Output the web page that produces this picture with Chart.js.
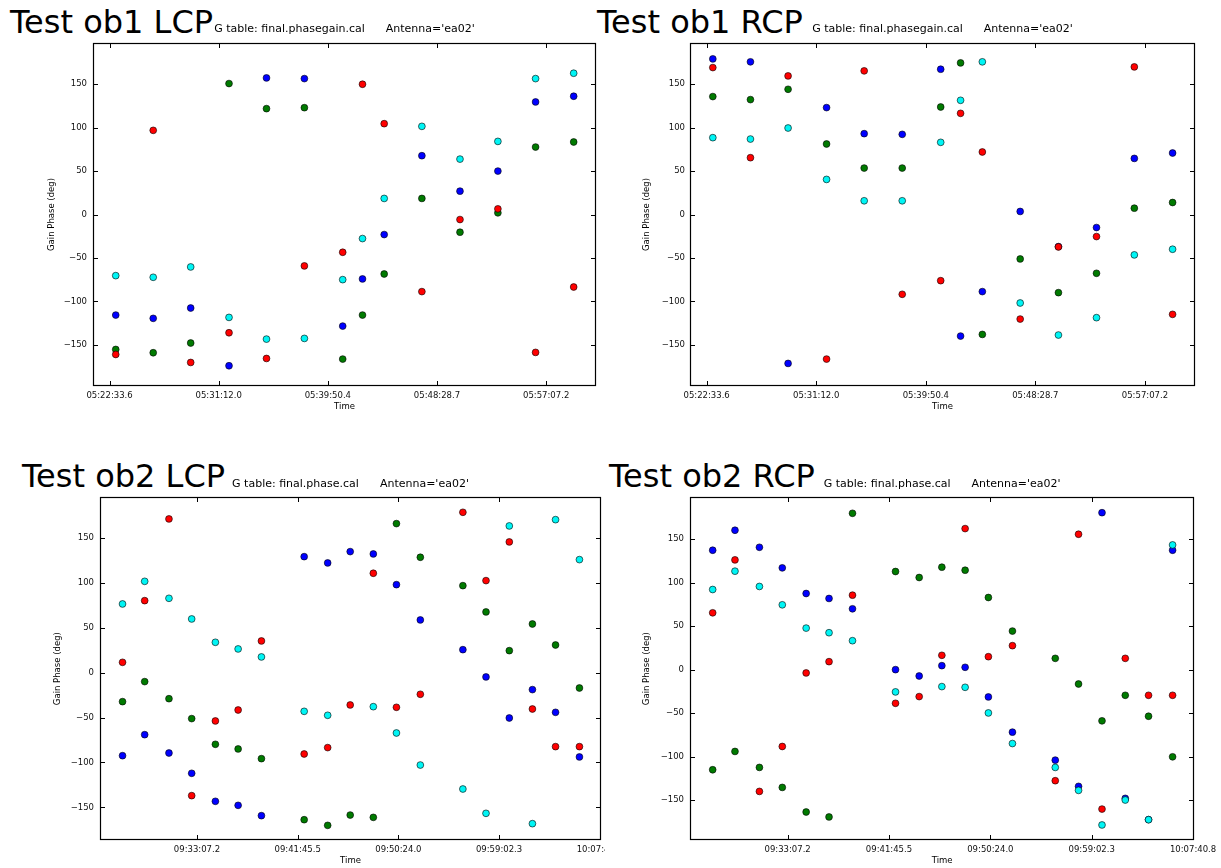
<!DOCTYPE html>
<html><head><meta charset="utf-8">
<script src="https://cdn.jsdelivr.net/npm/chart.js@4"></script>
<style>
body{margin:0;background:#fff;width:1221px;height:868px;overflow:hidden;position:relative;font-family:'DejaVu Sans',sans-serif;}
.big{position:absolute;font-size:32px;line-height:32px;white-space:nowrap;color:#000;}
canvas{position:absolute;}
</style></head><body>
<div class="big" style="left:10px;top:6px">Test ob1 LCP</div>
<div class="big" style="left:597px;top:6px">Test ob1 RCP</div>
<div class="big" style="left:22px;top:460px">Test ob2 LCP</div>
<div class="big" style="left:609px;top:460px">Test ob2 RCP</div>
<canvas id="c1" width="600" height="422" style="left:0;top:0"></canvas>
<canvas id="c2" width="621" height="422" style="left:600px;top:0"></canvas>
<canvas id="c3" width="605" height="418" style="left:0;top:450px"></canvas>
<canvas id="c4" width="616" height="418" style="left:605px;top:450px"></canvas>
<script>
// ---- data ----
const timesOb1 = ['05:23:03','05:26:01','05:28:59','05:32:01','05:34:59','05:37:59','05:41:01','05:42:35','05:44:18','05:47:17','05:50:18','05:53:18','05:56:17','05:59:18'];
const timesOb2 = ['09:26:44','09:28:38','09:30:43','09:32:40','09:34:42','09:36:39','09:38:39','09:42:19','09:44:20','09:46:16','09:48:15','09:50:14','09:52:17','09:55:56','09:57:55','09:59:55','10:01:54','10:03:53','10:05:56'];
const xTicksOb1 = ['05:22:33.6','05:31:12.0','05:39:50.4','05:48:28.7','05:57:07.2'];
const xTicksOb2 = ['09:33:07.2','09:41:45.5','09:50:24.0','09:59:02.3','10:07:40.8'];
const yTicks = [-150,-100,-50,0,50,100,150];
const seriesColors = ['#0000ff','#007a00','#ff0000','#00f5f5'];

const ob1LcpBlue  = [-115.8,-119.6,-107.7,-174.2,157.3,156.5,-128.5,-74.2,-23.1,67.7,26.9,50,129.6,136.2];
const ob1LcpGreen = [-155.4,-159.2,-148,150.8,121.9,123,-166.5,-115.8,-68.5,18.5,-20.4,1.9,77.7,83.5];
const ob1LcpRed   = [-161.2,96.9,-170.4,-136.2,-165.8,-59.2,-43.5,150,104.6,-88.8,-5.8,6.5,-158.8,-83.5];
const ob1LcpCyan  = [-70.4,-72.3,-60.4,-118.5,-143.5,-142.7,-75,-27.7,18.5,101.5,63.8,84.2,156.5,162.7];

const ob1RcpBlue  = [179.2,175.8,-171.5,123.1,93.1,92.3,167.3,-140,-88.8,3.5,-37,-15,64.6,70.8];
const ob1RcpGreen = [135.8,132.3,144.2,81.2,53.5,53.5,123.8,174.6,-138.1,-51.2,-90,-67.7,7.3,13.8];
const ob1RcpRed   = [169.2,65.4,159.6,-166.5,165.4,-91.9,-76.2,116.5,72,-120.4,-37.3,-25.4,170,-115];
const ob1RcpCyan  = [88.5,86.9,99.6,40.4,15.8,15.8,83.1,131.5,175.8,-101.9,-138.8,-118.8,-46.5,-40];

const ob2LcpBlue  = [-92.5,-69.1,-89.5,-112.1,-143.3,-147.8,-159.3,129.2,122.2,134.8,132.2,98,58.7,25.6,-4.8,-50.5,-18.9,-44.2,-93.9];
const ob2LcpGreen = [-32.3,-10,-29,-51.2,-79.8,-85,-95.8,-163.8,-170.1,-158.6,-161.2,166,128.5,96.9,67.6,24.5,54.2,30.8,-17.1];
const ob2LcpRed   = [11.5,80.2,171.2,-137,-53.8,-41.6,35.3,-90.6,-83.5,-36,110.7,-38.6,-24.1,178.6,102.5,145.6,-40.5,-82.4,-82.4];
const ob2LcpCyan  = [76.5,101.7,82.8,59.8,33.8,26.4,17.5,-43.1,-47.5,null,-37.9,-67.2,-102.9,-129.6,-156.7,163.4,-168.2,170.4,125.9];

const ob2RcpBlue  = [137.4,160.4,140.8,117.1,87.6,81.9,70,0,-7.3,4.6,2.7,-31.4,-71.9,-104.1,-134.3,180.6,-148.1,-172.6,137.4];
const ob2RcpGreen = [-115.2,-94.1,-112.5,-135.5,-163.8,-169.5,179.9,112.9,106,117.9,114.4,83,44.4,13,-16.5,-58.9,-29.5,-53.6,-100.3];
const ob2RcpRed   = [65.4,126.3,-140.1,-88.4,-3.8,9.2,85.7,-38.7,-31,16.5,162.3,14.9,27.6,-127.8,155.8,-160.4,13,-29.5,-29.5];
const ob2RcpCyan  = [92.2,113.3,95.7,74.6,47.8,42.5,33.3,-25.6,null,-19.5,-20.3,-49.8,-85,-112.5,-138.9,-178.7,-150,-172.6,143.5];

const subtitleOb1 = "G table: final.phasegain.cal      Antenna='ea02'";
const subtitleOb2 = "G table: final.phase.cal      Antenna='ea02'";
const xLabel = 'Time';
const yLabel = 'Gain Phase (deg)';

// ---- rendering ----
const F = "'DejaVu Sans', sans-serif";
function toSec(s){const p=s.split(':');return (+p[0])*3600+(+p[1])*60+(+p[2]);}

const framePlugin = {
  id:'frame',
  afterDatasetsDraw(chart){
    const {ctx, chartArea:a, scales:{x,y}} = chart;
    ctx.save();
    ctx.strokeStyle='#000'; ctx.lineWidth=1;
    ctx.beginPath();
    const L=Math.round(a.left)+0.5, R=Math.round(a.right)-0.5, T=Math.round(a.top)+0.5, B=Math.round(a.bottom)-0.5;
    x.ticks.forEach(t=>{const px=Math.round(x.getPixelForValue(t.value))+0.5;
      ctx.moveTo(px,B); ctx.lineTo(px,B-4.5); ctx.moveTo(px,T); ctx.lineTo(px,T+4.5);});
    y.ticks.forEach(t=>{const py=Math.round(y.getPixelForValue(t.value))+0.5;
      ctx.moveTo(L,py); ctx.lineTo(L+4.5,py); ctx.moveTo(R,py); ctx.lineTo(R-4.5,py);});
    ctx.stroke();
    ctx.lineWidth=1.2;
    ctx.strokeRect(L,T,R-L,B-T);
    ctx.restore();
  }
};

function makePanel(id, g, times, xTickLabels, xRange, yRange, series, subtitle){
  const xTickVals = xTickLabels.map(toSec);
  new Chart(document.getElementById(id), {
    type:'scatter',
    data:{datasets: series.map((vals,i)=>({
      data: times.map((t,j)=> vals[j]==null ? null : {x:toSec(t), y:vals[j]}).filter(Boolean),
      backgroundColor: seriesColors[i], borderColor:'#000', borderWidth:0.6,
      pointRadius:3.4, pointHoverRadius:3.4, order: 4-i
    }))},
    options:{
      responsive:false, animation:false, events:[],
      layout:{padding:g.pad},
      plugins:{
        legend:{display:false}, tooltip:{enabled:false},
        title:{display:true, text:subtitle, fullSize:false, color:'#000',
          font:{family:F,size:11,weight:'normal'}, padding:{top:g.titleTop,bottom:g.titleBottom}}
      },
      scales:{
        x:{type:'linear', min:xRange[0], max:xRange[1],
          grid:{display:false, drawTicks:false}, border:{display:false},
          afterBuildTicks(s){ s.ticks = xTickVals.map(v=>({value:v})); },
          ticks:{autoSkip:false, maxRotation:0, minRotation:0, padding:g.xTickPad, color:'#111',
            font:{family:F,size:8.5}, callback:(v,i)=>xTickLabels[i]},
          title:{display:true, text:xLabel, color:'#000', font:{family:F,size:8.5}, padding:{top:0,bottom:g.xTitlePad}},
          afterFit(s){ s.height=g.xH; s.paddingLeft=0; s.paddingRight=0; }
        },
        y:{type:'linear', min:yRange[0], max:yRange[1],
          grid:{display:false, drawTicks:false}, border:{display:false},
          afterBuildTicks(s){ s.ticks = yTicks.map(v=>({value:v})); },
          ticks:{padding:g.yTickPad, color:'#111', font:{family:F,size:8.5},
            callback:(v)=> v<0 ? '\u2212'+Math.abs(v) : String(v)},
          title:{display:true, text:yLabel, color:'#000', font:{family:F,size:8.5}, padding:{top:g.yTitlePad,bottom:0}},
          afterFit(s){ s.width=g.yW; s.paddingTop=0; s.paddingBottom=0; }
        }
      }
    },
    plugins:[framePlugin]
  });
}

makePanel('c1', {pad:{left:0,right:3,top:0,bottom:6}, titleTop:23, titleBottom:6.8, yW:93, xH:30, yTitlePad:46.6, yTickPad:6, xTickPad:4.5, xTitlePad:3.9},
  timesOb1, xTicksOb1, [19275,21664], [-197.5,197.5], [ob1LcpBlue,ob1LcpGreen,ob1LcpRed,ob1LcpCyan], subtitleOb1);
makePanel('c2', {pad:{left:0,right:26,top:0,bottom:6}, titleTop:23, titleBottom:6.8, yW:90, xH:30, yTitlePad:41.9, yTickPad:5, xTickPad:4.5, xTitlePad:3.9},
  timesOb1, xTicksOb1, [19275,21664], [-197.5,197.5], [ob1RcpBlue,ob1RcpGreen,ob1RcpRed,ob1RcpCyan], subtitleOb1);
makePanel('c3', {pad:{left:0,right:1.7,top:0,bottom:0}, titleTop:27.4, titleBottom:6.7, yW:100, xH:28, yTitlePad:52.9, yTickPad:6, xTickPad:4.5, xTitlePad:1.9},
  timesOb2, xTicksOb2, [33888,36467], [-186.4,195.3], [ob2LcpBlue,ob2LcpGreen,ob2LcpRed,ob2LcpCyan], subtitleOb2);
makePanel('c4', {pad:{left:0,right:26.7,top:0,bottom:0}, titleTop:27.4, titleBottom:6.7, yW:85, xH:28, yTitlePad:36.9, yTickPad:6, xTickPad:4.5, xTitlePad:1.9},
  timesOb2, xTicksOb2, [33888,36467], [-196,198.3], [ob2RcpBlue,ob2RcpGreen,ob2RcpRed,ob2RcpCyan], subtitleOb2);
</script>
</body></html>
